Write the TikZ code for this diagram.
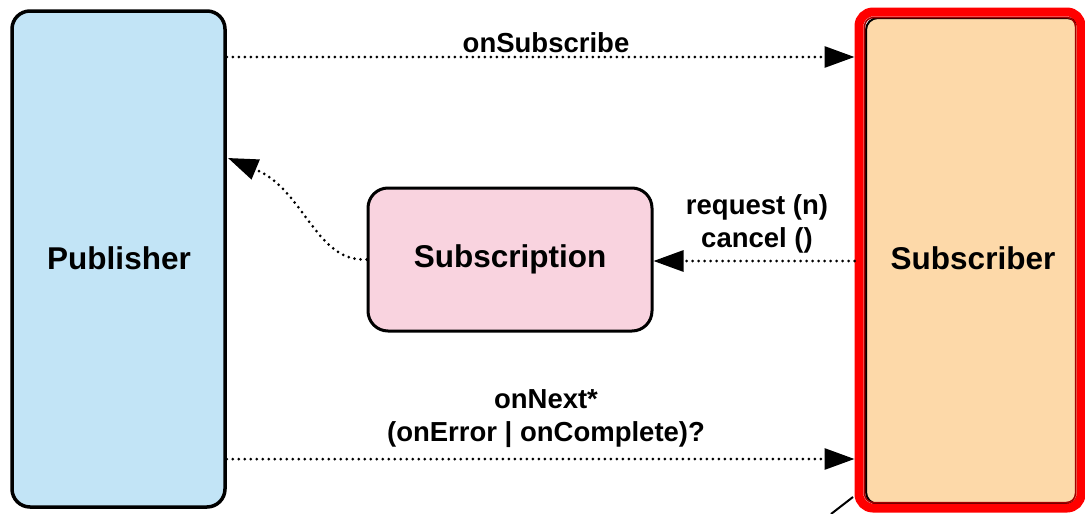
\documentclass[tikz,border=0pt]{standalone}
\usepackage{fontspec}
\setmainfont{Liberation Sans}
\usetikzlibrary{arrows.meta}
\definecolor{pubblue}{HTML}{C2E4F6}
\definecolor{subpink}{HTML}{F9D3DF}
\definecolor{suborange}{HTML}{FDD9A9}
\definecolor{framered}{HTML}{FF0000}
\definecolor{darkred}{HTML}{A00000}
\tikzset{
  box/.style={draw=black, rectangle, align=center, font=\fontsize{31.5}{36}\selectfont\bfseries},
  lbl/.style={align=center, font=\fontsize{27.5}{33}\selectfont\bfseries, inner sep=0pt},
  dotline/.style={line width=3pt, dash pattern=on 0pt off 6pt, line cap=round, -{Triangle[length=30pt,width=21pt]}}
}
\begin{document}
\begin{tikzpicture}[x=1pt,y=-1pt]
\useasboundingbox (0,0) rectangle (1085,514);
\fill[white] (0,0) rectangle (1085,514);
% nodes
\node[box, line width=3.5pt, fill=pubblue, rounded corners=18pt, minimum width=213pt, minimum height=496pt] (pub) at (118.5,259) {};
\node[font=\fontsize{31.5}{36}\selectfont\bfseries] (publbl) at (119,258) {Publisher};
\node[box, line width=3pt, fill=subpink, rounded corners=20pt, minimum width=284pt, minimum height=143pt] (subn) at (510,259.5) {Subscription};
\node[box, line width=2pt, fill=suborange, rounded corners=12pt, minimum width=213pt, minimum height=486pt] (sbr) at (972.5,261) {};
\node[draw=framered, line width=9pt, rectangle, rounded corners=14pt, minimum width=222pt, minimum height=496pt] (subf) at (970,260) {};
\node[draw=darkred, line width=1.5pt, rectangle, rounded corners=9pt, minimum width=211pt, minimum height=485pt] (subf2) at (970,260) {};
\node[font=\fontsize{31.5}{36}\selectfont\bfseries] (sbrlbl) at (973,258) {Subscriber};
% helper coordinates
\coordinate (y1) at (0,57);
\coordinate (y2) at (0,261);
\coordinate (y3) at (0,459);
\coordinate (ptip) at (228,158);
% connectors
\draw[dotline] (pub.east |- y1) -- (subf.west |- y1);
\draw[dotline] (subf.west |- y2) -- (subn.east |- y2);
\draw[dotline] (pub.east |- y3) -- (subf.west |- y3);
\draw[dotline] (subn.west) .. controls (315,262) and (305,190) .. (ptip);
% small diagonal line bottom-left of frame
\coordinate (d1) at (831,514);
\coordinate (d2) at (853,497);
\draw[line width=2pt] (d1) -- (d2);
% labels
\node[lbl] (l1) at (546,43) {onSubscribe};
\node[lbl] (l2) at (757,224) {request (n)\\cancel ()};
\node[lbl] (l3) at (546,419) {onNext*\\(onError | onComplete)?};
\end{tikzpicture}
\end{document}
